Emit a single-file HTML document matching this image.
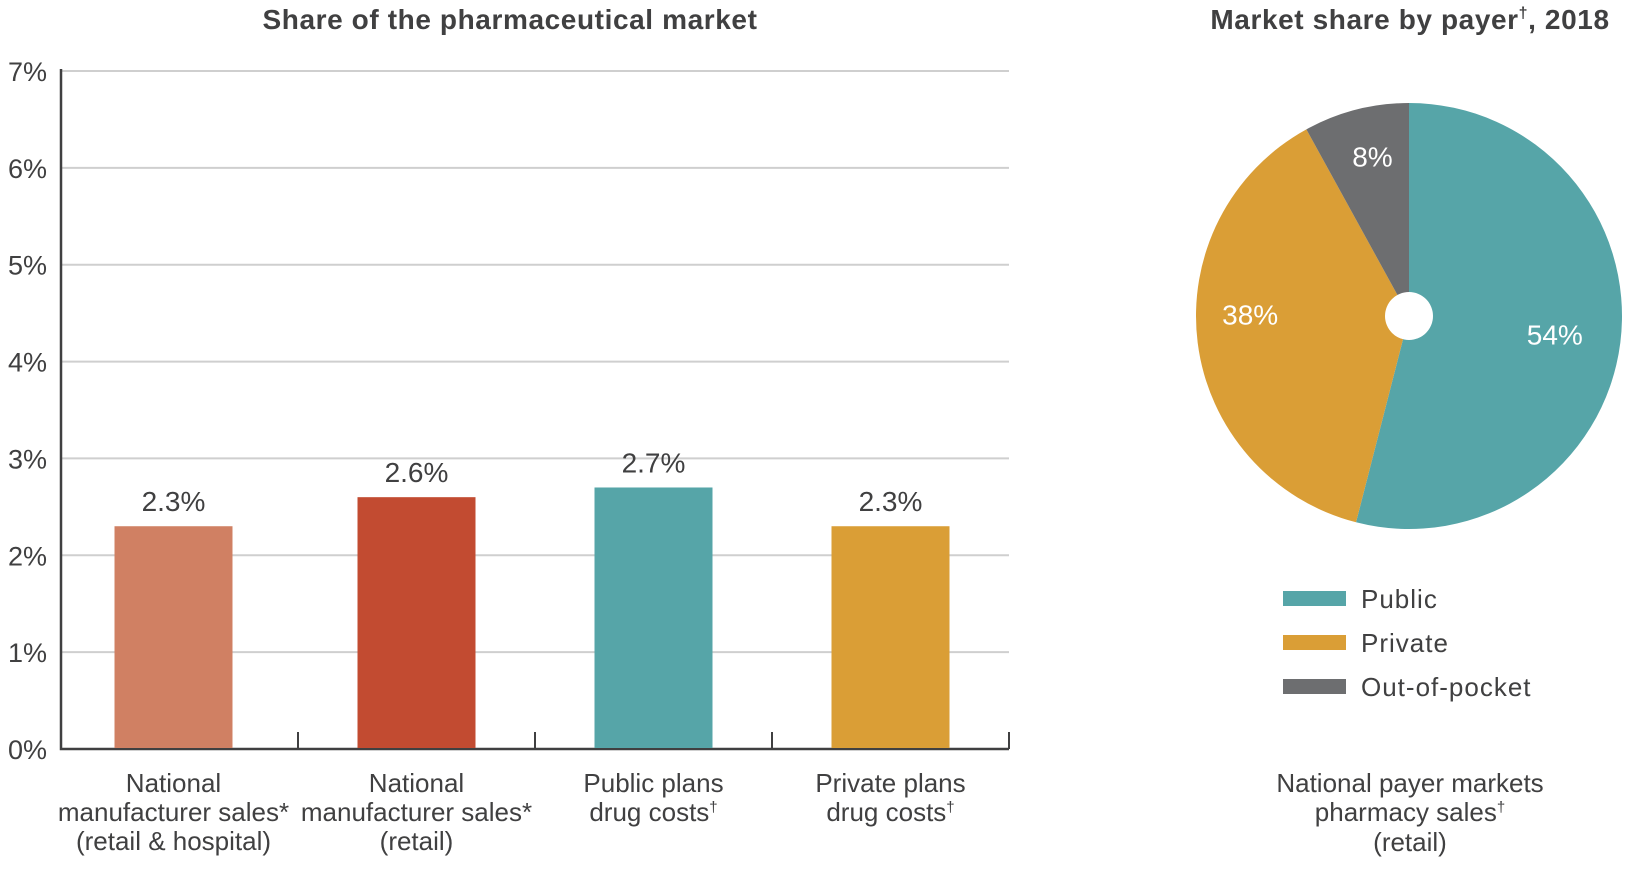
<!DOCTYPE html>
<html><head><meta charset="utf-8"><style>
html,body{margin:0;padding:0;background:#fff;}
svg{display:block;font-family:"Liberation Sans",sans-serif;}
</style></head><body>
<svg id="c" width="1631" height="873" viewBox="0 0 1631 873">
<text x="510" y="29" text-anchor="middle" font-size="28" font-weight="bold" letter-spacing="0.6" fill="#404041">Share of the pharmaceutical market</text>
<text x="1410" y="29" text-anchor="middle" font-size="28" font-weight="bold" letter-spacing="0.6" fill="#404041">Market share by payer<tspan font-size="16" dy="-11">†</tspan><tspan dy="11">, 2018</tspan></text>
<g id="grid"></g><g id="bars"></g><g id="pie"></g><g id="legend"></g>
<g fill="#404041" font-size="26" text-anchor="middle">
<text x="1410" y="792">National payer markets</text>
<text x="1410" y="821">pharmacy sales<tspan font-size="15" dy="-9">†</tspan></text>
<text x="1410" y="851">(retail)</text>
</g>
</svg>
<script>
const categories=[["National","manufacturer sales*","(retail & hospital)"],["National","manufacturer sales*","(retail)"],["Public plans","drug costs"],["Private plans","drug costs"]];
const values=[2.3,2.6,2.7,2.3];
const valueLabels=["2.3%","2.6%","2.7%","2.3%"];
const barColors=["#D08063","#C24B31","#56A5A8","#DA9E36"];
const yTicks=[0,1,2,3,4,5,6,7];
const pieLabels=["Public","Private","Out-of-pocket"];
const pieValues=[54,38,8];
const pieColors=["#56A5A8","#DA9E36","#6D6E70"];
const NS="http://www.w3.org/2000/svg";
function mk(t,a,p){const e=document.createElementNS(NS,t);for(const k in a)e.setAttribute(k,a[k]);p.appendChild(e);return e;}
const X0=61,X1=1009,Y0=749,Y7=71;
const y=v=>Y0-(v/7)*(Y0-Y7);
const band=(X1-X0)/categories.length;
const barShift=[-6,0,0,0];
const grid=document.getElementById('grid');
yTicks.forEach(t=>{
 if(t>0){const l=mk('line',{x1:X0,x2:X1,y1:y(t),y2:y(t),stroke:'#cfcfcf','stroke-width':2},grid);
 
 }
 const tx=mk('text',{x:47,y:y(t)+10,'text-anchor':'end','font-size':27,fill:'#404041'},grid);tx.textContent=t+'%';
 
 
});
const ax=mk('path',{d:`M${X0} ${Y7-2}V${Y0}H${X1}`,stroke:'#404041','stroke-width':2.5,fill:'none'},grid);


for(let i=1;i<=categories.length;i++){const tk=mk('line',{x1:X0+band*i,x2:X0+band*i,y1:Y0-17,y2:Y0,stroke:'#404041','stroke-width':2},grid);
 
 }
const bars=document.getElementById('bars');
values.forEach((v,i)=>{
 const cx=X0+band*(i+0.5)+barShift[i];
 const r=mk('rect',{x:cx-59,y:y(v),width:118,height:Y0-y(v)-1,fill:barColors[i]},bars);
 
 
 const t=mk('text',{x:cx,y:y(v)-15,'text-anchor':'middle','font-size':28,fill:'#404041'},bars);t.textContent=valueLabels[i];
 
 
 categories[i].forEach((ln,j)=>{const c=mk('text',{x:cx,y:792+j*29,'text-anchor':'middle','font-size':26,fill:'#404041'},bars);c.textContent=ln;
 if(i>=2&&j===1){const d=mk('tspan',{'font-size':15,dy:-9},c);d.textContent='†';}
 
 });
});
const pie=document.getElementById('pie');
const PX=1409,PY=316,R=213;
const labelNudge=[[0,0],[-13,-20],[0,-17]];
const tot=pieValues.reduce((a,b)=>a+b,0);let acc=0;
pieValues.forEach((v,i)=>{
 const a0=acc/tot*2*Math.PI;acc+=v;const a1=acc/tot*2*Math.PI;
 const p=(a)=>[PX+R*Math.sin(a),PY-R*Math.cos(a)];
 const [x0,y0]=p(a0),[x1,y1]=p(a1);
 const s=mk('path',{d:`M${PX} ${PY}L${x0} ${y0}A${R} ${R} 0 ${a1-a0>Math.PI?1:0} 1 ${x1} ${y1}Z`,fill:pieColors[i]},pie);
 
 
 const am=(a0+a1)/2,lr=R*0.69;
 const t=mk('text',{x:PX+lr*Math.sin(am)+labelNudge[i][0],y:PY-lr*Math.cos(am)+10+labelNudge[i][1],'text-anchor':'middle','font-size':28,fill:'#fff'},pie);t.textContent=v+'%';
 
 
});
const hole=mk('circle',{cx:PX,cy:PY,r:24,fill:'#fff'},pie);


const lg=document.getElementById('legend');
pieLabels.forEach((l,i)=>{
 const g=mk('g',{},lg);
 
 
 mk('rect',{x:1283,y:591+i*44,width:63,height:15,fill:pieColors[i]},g);
 const t=mk('text',{x:1361,y:608+i*44,'font-size':26,'letter-spacing':1,fill:'#404041'},g);t.textContent=l;
});
</script>
</body></html>
